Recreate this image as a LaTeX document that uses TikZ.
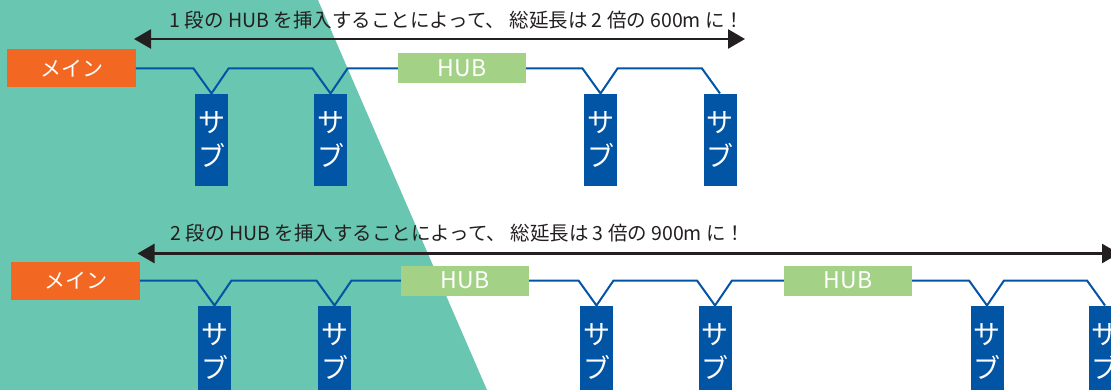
\documentclass[tikz,border=0pt]{standalone}
\usepackage{fontspec}
\setmainfont{Noto Sans CJK JP}
\usepackage{tikz}
\usetikzlibrary{arrows.meta}
\definecolor{bggreen}{RGB}{105,198,176}
\definecolor{mainorange}{RGB}{242,103,34}
\definecolor{subblue}{RGB}{2,85,165}
\definecolor{hubgreen}{RGB}{163,210,134}
\definecolor{arrowblack}{RGB}{35,31,32}
\tikzset{
  mainbox/.style={fill=mainorange, text=white, minimum width=128.5pt, minimum height=38pt, inner sep=0pt, font=\fontsize{21}{21}\selectfont},
  hubbox/.style={fill=hubgreen, text=white, minimum width=128pt, minimum height=30pt, inner sep=0pt, font=\fontsize{23}{23}\selectfont},
  subbox/.style={fill=subblue, text=white, minimum width=33pt, minimum height=92pt, inner sep=0pt, anchor=north, align=center, font=\fontsize{27}{33.5}\selectfont},
  bus/.style={draw=subblue, line width=2pt},
  spanarrow/.style={draw=arrowblack, line width=2.6pt, {Triangle[length=17pt,width=19pt]}-{Triangle[length=17pt,width=19pt]}},
  headline/.style={text=arrowblack, font=\fontsize{19.5}{19.5}\selectfont}
}
\begin{document}
\begin{tikzpicture}[x=1pt, y=-1pt]
  \useasboundingbox (0,0) rectangle (1111,390);
  \fill[bggreen] (0,0) -- (318,0) -- (487,390) -- (0,390) -- cycle;

  \node[headline] (line1) at (457,20) {1 段の HUB を挿入することによって、 総延長は 2 倍の 600m に！};
  \coordinate (span1l) at (134,39);
  \coordinate (span1r) at (745,39);
  \draw[spanarrow] (span1l) -- (span1r);
  \node[mainbox] (main1) at (71.5,68.5) {メイン};
  \node[hubbox] (hub1) at (462,68.5) {HUB};
  \foreach \n/\x in {a/211.5, b/330.5, c/600.5, d/720}
    {\node[subbox] (s1\n) at (\x,93.5) {サ\\ブ};}
  \draw[bus] (main1.east) -- ([xshift=-18pt,yshift=25pt]s1a.north) -- (s1a.north) -- ([xshift=17pt,yshift=25pt]s1a.north)
    -- ([xshift=-18pt,yshift=25pt]s1b.north) -- (s1b.north) -- ([xshift=17pt,yshift=25pt]s1b.north) -- (hub1.west);
  \draw[bus] (hub1.east) -- ([xshift=-18pt,yshift=25pt]s1c.north) -- (s1c.north) -- ([xshift=17pt,yshift=25pt]s1c.north)
    -- ([xshift=-18pt,yshift=25pt]s1d.north) -- (s1d.north);

  \node[headline] (line2) at (458,233) {2 段の HUB を挿入することによって、 総延長は 3 倍の 900m に！};
  \coordinate (span2l) at (137.5,253.5);
  \coordinate (span2r) at (1119,253.5);
  \draw[spanarrow] (span2l) -- (span2r);
  \node[mainbox] (main2) at (75.5,280.5) {メイン};
  \node[hubbox] (hub2a) at (465,280.5) {HUB};
  \node[hubbox] (hub2b) at (848,280.5) {HUB};
  \foreach \n/\x in {a/214.5, b/334.5, c/596.5, d/715, e/987, f/1105}
    {\node[subbox] (s2\n) at (\x,305.5) {サ\\ブ};}
  \draw[bus] (main2.east) -- ([xshift=-18pt,yshift=25pt]s2a.north) -- (s2a.north) -- ([xshift=17pt,yshift=25pt]s2a.north)
    -- ([xshift=-18pt,yshift=25pt]s2b.north) -- (s2b.north) -- ([xshift=17pt,yshift=25pt]s2b.north) -- (hub2a.west);
  \draw[bus] (hub2a.east) -- ([xshift=-18pt,yshift=25pt]s2c.north) -- (s2c.north) -- ([xshift=17pt,yshift=25pt]s2c.north)
    -- ([xshift=-18pt,yshift=25pt]s2d.north) -- (s2d.north) -- ([xshift=17pt,yshift=25pt]s2d.north) -- (hub2b.west);
  \draw[bus] (hub2b.east) -- ([xshift=-18pt,yshift=25pt]s2e.north) -- (s2e.north) -- ([xshift=17pt,yshift=25pt]s2e.north)
    -- ([xshift=-18pt,yshift=25pt]s2f.north) -- (s2f.north);
\end{tikzpicture}
\end{document}
